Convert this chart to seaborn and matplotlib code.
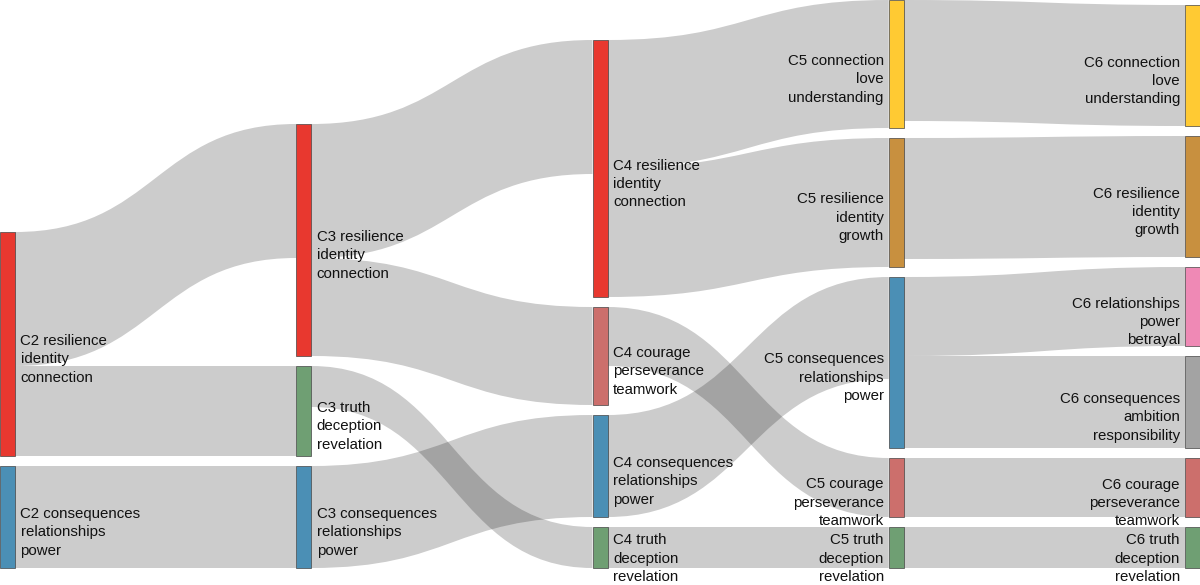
import matplotlib
matplotlib.use("Agg")
import matplotlib.pyplot as plt
from matplotlib.path import Path
from matplotlib.patches import PathPatch, Rectangle
import seaborn as sns

OUTPUT_FIG_NAME = "out.png"

# nodes, in column order (C2 .. C6)
NODE_LABELS = [
    "C2 resilience\nidentity\nconnection",
    "C2 consequences\nrelationships\npower",
    "C3 resilience\nidentity\nconnection",
    "C3 truth\ndeception\nrevelation",
    "C3 consequences\nrelationships\npower",
    "C4 resilience\nidentity\nconnection",
    "C4 courage\nperseverance\nteamwork",
    "C4 consequences\nrelationships\npower",
    "C4 truth\ndeception\nrevelation",
    "C5 connection\nlove\nunderstanding",
    "C5 resilience\nidentity\ngrowth",
    "C5 consequences\nrelationships\npower",
    "C5 courage\nperseverance\nteamwork",
    "C5 truth\ndeception\nrevelation",
    "C6 connection\nlove\nunderstanding",
    "C6 resilience\nidentity\ngrowth",
    "C6 relationships\npower\nbetrayal",
    "C6 consequences\nambition\nresponsibility",
    "C6 courage\nperseverance\nteamwork",
    "C6 truth\ndeception\nrevelation",
]

NODE_COLORS = [
    "#e8382f", "#4b8fb5",
    "#e8382f", "#6f9f73", "#4b8fb5",
    "#e8382f", "#cc6f6c", "#4b8fb5", "#6f9f73",
    "#ffca33", "#c8903f", "#4b8fb5", "#cc6f6c", "#6f9f73",
    "#ffca33", "#c8903f", "#ef89b5", "#a3a3a3", "#cc6f6c", "#6f9f73",
]

# flows between chapters
LINK_SOURCE = [0, 0, 1, 2, 2, 3, 4, 5, 5, 6, 7, 8, 9, 10, 11, 11, 12, 13]
LINK_TARGET = [2, 3, 4, 5, 6, 8, 7, 9, 10, 12, 11, 13, 14, 15, 16, 17, 18, 19]
LINK_VALUE = [134, 90, 102, 134, 98, 41, 102, 128, 129, 59, 102, 41,
              121, 121, 79, 92, 59, 41]

WIDTH, HEIGHT = 1200, 585
PLOT_HEIGHT = 568
NODE_WIDTH = 15
NODE_PAD = 10
ITERATIONS = 50
FONT_PX = 15
LINE_STEP = 18.3


def sankey_layout(n, sources, targets, values):
    src_links = [[] for _ in range(n)]
    tgt_links = [[] for _ in range(n)]
    for i, (s, t) in enumerate(zip(sources, targets)):
        src_links[s].append(i)
        tgt_links[t].append(i)

    node_value = [max(sum(values[l] for l in src_links[k]),
                      sum(values[l] for l in tgt_links[k])) for k in range(n)]

    depth = [0] * n
    changed = True
    while changed:
        changed = False
        for s, t in zip(sources, targets):
            if depth[t] < depth[s] + 1:
                depth[t] = depth[s] + 1
                changed = True
    n_cols = max(depth) + 1
    columns = [[k for k in range(n) if depth[k] == d] for d in range(n_cols)]

    ky = min((PLOT_HEIGHT - (len(c) - 1) * NODE_PAD) / sum(node_value[k] for k in c)
             for c in columns)
    y0 = [0.0] * n
    y1 = [0.0] * n
    for c in columns:
        for i, k in enumerate(c):
            y0[k] = float(i)
            y1[k] = i + node_value[k] * ky
    widths = [v * ky for v in values]

    def center(k):
        return (y0[k] + y1[k]) / 2

    def shift(k, dy):
        y0[k] += dy
        y1[k] += dy

    # node order inside a column is kept as given
    def resolve():
        for c in columns:
            y = 0.0
            for k in c:
                dy = y - y0[k]
                if dy > 0:
                    shift(k, dy)
                y = y1[k] + NODE_PAD
            dy = y - NODE_PAD - PLOT_HEIGHT
            if dy > 0:
                shift(c[-1], -dy)
                y = y0[c[-1]]
                for k in reversed(c[:-1]):
                    dy = y1[k] + NODE_PAD - y
                    if dy > 0:
                        shift(k, -dy)
                    y = y0[k]

    resolve()
    alpha = 1.0
    for _ in range(ITERATIONS):
        alpha *= 0.99
        for c in reversed(columns):
            for k in c:
                if src_links[k]:
                    w = sum(values[l] for l in src_links[k])
                    m = sum(center(targets[l]) * values[l] for l in src_links[k]) / w
                    shift(k, (m - center(k)) * alpha)
        resolve()
        for c in columns:
            for k in c:
                if tgt_links[k]:
                    w = sum(values[l] for l in tgt_links[k])
                    m = sum(center(sources[l]) * values[l] for l in tgt_links[k]) / w
                    shift(k, (m - center(k)) * alpha)
        resolve()

    link_y_src = [0.0] * len(values)
    link_y_tgt = [0.0] * len(values)
    for k in range(n):
        yy = y0[k]
        for l in sorted(src_links[k], key=lambda l: y0[targets[l]]):
            link_y_src[l] = yy
            yy += widths[l]
        yy = y0[k]
        for l in sorted(tgt_links[k], key=lambda l: y0[sources[l]]):
            link_y_tgt[l] = yy
            yy += widths[l]

    return depth, n_cols, y0, y1, widths, link_y_src, link_y_tgt


def main():
    sns.set_theme(style="white")
    plt.rcParams["font.family"] = ["Liberation Sans", "DejaVu Sans"]

    n = len(NODE_LABELS)
    depth, n_cols, y0, y1, widths, ly_src, ly_tgt = sankey_layout(
        n, LINK_SOURCE, LINK_TARGET, LINK_VALUE)
    step = (WIDTH - NODE_WIDTH) / (n_cols - 1)
    node_x = [d * step for d in depth]

    fig = plt.figure(figsize=(WIDTH / 100, HEIGHT / 100), dpi=100)
    ax = fig.add_axes([0, 0, 1, 1])
    ax.set_xlim(0, WIDTH)
    ax.set_ylim(HEIGHT, 0)
    ax.axis("off")

    # links
    for l, (s, t) in enumerate(zip(LINK_SOURCE, LINK_TARGET)):
        xa = node_x[s] + NODE_WIDTH
        xb = node_x[t]
        xm = (xa + xb) / 2
        ya, yb, w = ly_src[l], ly_tgt[l], widths[l]
        verts = [(xa, ya), (xm, ya), (xm, yb), (xb, yb),
                 (xb, yb + w), (xm, yb + w), (xm, ya + w), (xa, ya + w), (xa, ya)]
        codes = [Path.MOVETO, Path.CURVE4, Path.CURVE4, Path.CURVE4,
                 Path.LINETO, Path.CURVE4, Path.CURVE4, Path.CURVE4, Path.CLOSEPOLY]
        ax.add_patch(PathPatch(Path(verts, codes), facecolor="black", alpha=0.2,
                               edgecolor="none", lw=0))

    # nodes and labels
    font_pt = FONT_PX * 72 / 100
    for k in range(n):
        ax.add_patch(Rectangle((node_x[k], y0[k]), NODE_WIDTH, y1[k] - y0[k],
                               facecolor=NODE_COLORS[k], edgecolor="#444444",
                               lw=0.5, zorder=3))
        on_right = node_x[k] + NODE_WIDTH / 2 <= WIDTH / 2
        tx = node_x[k] + NODE_WIDTH + 5.5 if on_right else node_x[k] - 5
        ha = "left" if on_right else "right"
        lines = NODE_LABELS[k].split("\n")
        base = (y0[k] + y1[k]) / 2 + 1
        base = min(base, HEIGHT - 4 - (len(lines) - 1) * LINE_STEP)
        for i, line in enumerate(lines):
            ax.text(tx, base + i * LINE_STEP, line, ha=ha, va="baseline",
                    fontsize=font_pt, color="#111111", zorder=4)

    plt.savefig(OUTPUT_FIG_NAME, dpi=100)
    plt.close()


if __name__ == "__main__":
    main()
